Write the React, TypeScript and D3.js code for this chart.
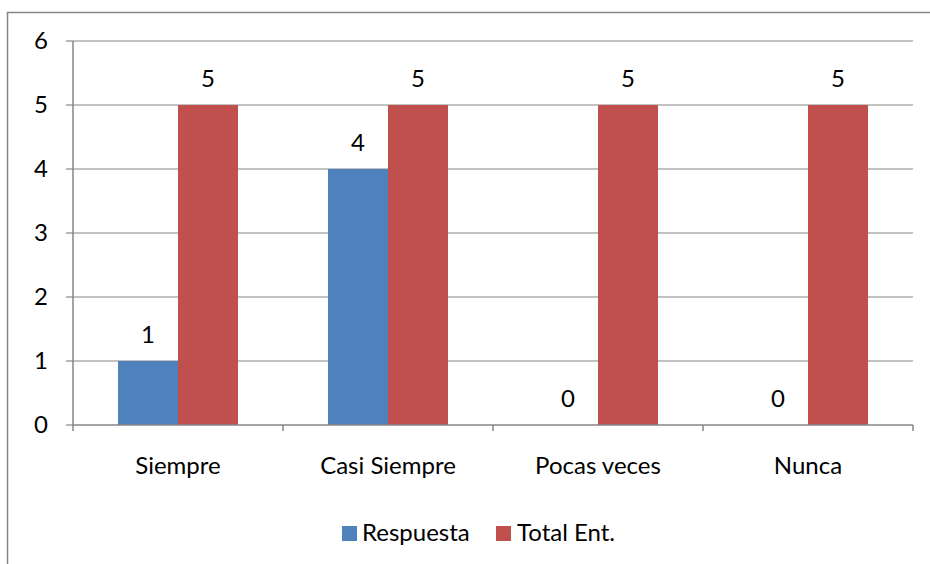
import React from "react";
import * as d3 from "d3";

const categories = ["Siempre", "Casi Siempre", "Pocas veces", "Nunca"];
const respuesta = [1, 4, 0, 0];
const totalEnt = [5, 5, 5, 5];
const seriesNames = ["Respuesta", "Total Ent."];
const yTicks = [0, 1, 2, 3, 4, 5, 6];

const W = 930;
const H = 564;
const COLORS = ["#4F81BD", "#C0504D"];
const GRID = "#868686";
const FONT = "Lato, 'Open Sans', sans-serif";
const FS = 24;

export default function App() {
  const left = 73, right = 913, top = 41, bottom = 425;
  const x = d3.scaleBand<string>().domain(categories).range([left, right]).paddingInner(0).paddingOuter(0);
  const inner = d3.scaleBand<number>().domain([0, 1]).range([0, x.bandwidth()]).paddingInner(0).paddingOuter(45 / 60);
  const y = d3.scaleLinear().domain([0, 6]).range([bottom, top]);
  const series = [respuesta, totalEnt];

  const boundaries = d3.range(categories.length + 1).map((i) => left + i * x.bandwidth());

  return (
    <svg width={W} height={H} style={{ position: "absolute", left: 0, top: 0, background: "#fff" }} fontFamily={FONT}>
      <rect x={0} y={0} width={W} height={H} fill="#fff" />
      <rect x={7.5} y={12.5} width={1200} height={1200} fill="none" stroke={GRID} strokeWidth={1.5} />
      {yTicks.map((t) => (
        <g key={t}>
          {t > 0 && <line x1={left} x2={right} y1={y(t)} y2={y(t)} stroke={GRID} strokeWidth={1.2} />}
          <line x1={left - 7} x2={left} y1={y(t)} y2={y(t)} stroke={GRID} strokeWidth={1.2} />
          <text x={48} y={y(t) + 8} textAnchor="end" fontSize={FS} fill="#000">{t}</text>
        </g>
      ))}
      {categories.map((c, i) => (
        <g key={c}>
          {series.map((s, k) => {
            const bx = (x(c) as number) + (inner(k) as number);
            const bw = inner.bandwidth();
            return (
              <g key={k}>
                {s[i] > 0 && (
                  <rect x={bx} y={y(s[i])} width={bw} height={y(0) - y(s[i])} fill={COLORS[k]} />
                )}
                <text x={bx + bw / 2} y={y(s[i]) - 18} textAnchor="middle" fontSize={FS} fill="#000">{s[i]}</text>
              </g>
            );
          })}
          <text x={(x(c) as number) + x.bandwidth() / 2} y={474} textAnchor="middle" fontSize={FS} fill="#000">{c}</text>
        </g>
      ))}
      <line x1={left} x2={left} y1={top} y2={bottom} stroke={GRID} strokeWidth={1.5} />
      <line x1={left} x2={right} y1={bottom} y2={bottom} stroke={GRID} strokeWidth={1.5} />
      {boundaries.map((b, i) => (
        <line key={i} x1={b} x2={b} y1={bottom} y2={bottom + 6} stroke={GRID} strokeWidth={1.5} />
      ))}
      <g>
        <rect x={342} y={526} width={15} height={15} fill={COLORS[0]} />
        <text x={362} y={541} fontSize={FS} fill="#000">{seriesNames[0]}</text>
        <rect x={496} y={526} width={15} height={15} fill={COLORS[1]} />
        <text x={517} y={541} fontSize={FS} fill="#000">{seriesNames[1]}</text>
      </g>
    </svg>
  );
}
